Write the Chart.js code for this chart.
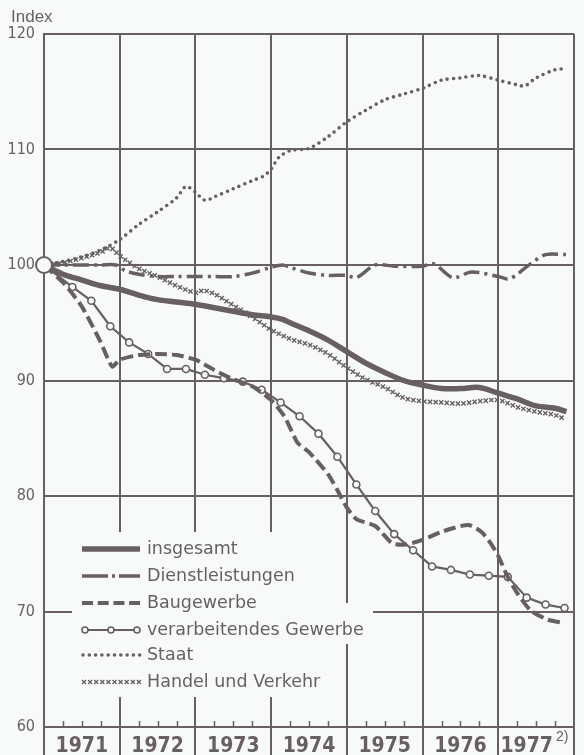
<!DOCTYPE html>
<html>
<head>
<meta charset="utf-8">
<script src="https://cdn.jsdelivr.net/npm/chart.js@4.4.1/dist/chart.umd.min.js"></script>
<style>
  html, body { margin: 0; padding: 0; background: #f8fafa; }
  #wrap { width: 584px; height: 755px; }
</style>
</head>
<body>
<div id="wrap"><canvas id="chart" width="584" height="755"></canvas></div>
<script>
// x values are quarters counted from the start of 1971 (0 = 1.1.1971, 28 = end of 1977)
const yearLabels = ["1971", "1972", "1973", "1974", "1975", "1976", "1977"];
const yearLabelPos = [2, 6, 10, 14, 18, 22, 25.5];
const yearLines = [0, 4, 8, 12, 16, 20, 24, 28];
const yTicks = [60, 70, 80, 90, 100, 110, 120];

const seriesNames = ["insgesamt", "Dienstleistungen", "Baugewerbe", "verarbeitendes Gewerbe", "Staat", "Handel und Verkehr"];

const insgesamtQ = [0, 1, 2, 3, 4, 5, 6, 7, 8, 9, 10, 11, 12, 12.6, 13, 14, 15, 16, 17, 18, 19, 20, 21, 22, 23, 24, 25, 26, 27, 27.6];
const insgesamtV = [100, 99.2, 98.7, 98.2, 97.9, 97.4, 97.0, 96.8, 96.6, 96.3, 96.0, 95.7, 95.5, 95.3, 95.0, 94.3, 93.5, 92.5, 91.5, 90.7, 90.0, 89.6, 89.3, 89.3, 89.4, 88.9, 88.4, 87.8, 87.6, 87.3];

const dienstQ = [0, 1, 2, 3, 3.8, 4.3, 5, 6, 7, 8, 9, 10, 11, 12, 12.6, 13, 14, 15, 16, 16.5, 17.5, 18.5, 20, 20.6, 21.6, 22.6, 24, 24.6, 25.7, 26.5, 27.6];
const dienstV = [100, 100, 100, 100, 100, 99.5, 99.2, 99.0, 99.0, 99.0, 99.0, 99.0, 99.3, 99.8, 100.0, 99.8, 99.3, 99.1, 99.1, 98.9, 100.0, 99.9, 99.9, 100.1, 98.9, 99.4, 99.0, 98.8, 100.1, 100.9, 100.9];

const bauQ = [0, 1, 2, 3, 3.6, 4, 5, 6, 7, 8, 9, 10, 11, 12, 12.7, 13.4, 14, 15, 15.5, 16, 16.5, 17.5, 18.4, 19.1, 20, 21, 22.4, 23.1, 23.6, 24, 24.5, 25, 25.7, 26.6, 27.5];
const bauV = [100, 98.5, 96.4, 93.3, 91.2, 91.8, 92.2, 92.3, 92.2, 91.8, 90.9, 90.1, 89.5, 88.3, 86.9, 84.6, 83.8, 81.9, 80.5, 79.0, 78.0, 77.4, 75.9, 75.8, 76.2, 76.9, 77.5, 76.9, 75.9, 74.8, 73.0, 71.6, 70.1, 69.3, 69.0];

const verarbQ = [0, 1.5, 2.5, 3.5, 4.5, 5.5, 6.5, 7.5, 8.5, 9.5, 10.5, 11.5, 12.5, 13.5, 14.5, 15.5, 16.5, 17.5, 18.5, 19.5, 20.5, 21.5, 22.5, 23.5, 24.5, 25.5, 26.5, 27.5];
const verarbV = [100, 98.1, 96.9, 94.7, 93.3, 92.3, 91.0, 91.0, 90.5, 90.2, 89.9, 89.2, 88.1, 86.9, 85.4, 83.4, 81.0, 78.7, 76.7, 75.3, 73.9, 73.6, 73.2, 73.1, 73.0, 71.2, 70.6, 70.3];

const staatQ = [0, 1, 2, 3, 4, 5, 6, 7, 7.5, 8, 8.5, 9, 10, 11, 11.6, 12, 12.4, 13, 14, 15, 16, 17, 18, 19, 20, 21, 22, 23, 24, 25, 25.4, 26, 27, 27.6];
const staatV = [100, 100.3, 100.7, 101.3, 102.2, 103.5, 104.6, 105.8, 106.8, 106.3, 105.6, 105.9, 106.6, 107.3, 107.7, 108.3, 109.3, 109.9, 110.1, 111.1, 112.4, 113.4, 114.3, 114.8, 115.3, 116.0, 116.2, 116.4, 116.0, 115.6, 115.5, 116.2, 116.9, 117.0];

const handelQ = [0, 1, 2, 3, 3.5, 4, 5, 6, 7, 8, 8.4, 9, 10, 11, 12, 13, 14, 15, 16, 17, 18, 19, 20, 21, 22, 23, 24, 25, 26, 27, 27.6];
const handelV = [100, 100.2, 100.6, 101.1, 101.5, 100.8, 99.7, 99.0, 98.2, 97.6, 97.8, 97.5, 96.5, 95.5, 94.4, 93.6, 93.1, 92.3, 91.1, 90.1, 89.4, 88.5, 88.2, 88.1, 88.0, 88.2, 88.3, 87.7, 87.3, 87.0, 86.6];

const INK = "#675f61";
const BG = "#f8fafa";
const NARROW = "'Liberation Sans Narrow', 'DejaVu Sans Condensed', 'Liberation Sans', sans-serif";
const LEGEND_FONT = "17.5px 'DejaVu Sans', sans-serif";

const toPoints = (qs, vs) => qs.map((q, i) => ({ x: q, y: vs[i] }));

// small x marks along a rendered line (Handel und Verkehr)
function drawCross(ctx, x, y, s) {
    ctx.beginPath();
    ctx.moveTo(x - s, y - s); ctx.lineTo(x + s, y + s);
    ctx.moveTo(x - s, y + s); ctx.lineTo(x + s, y - s);
    ctx.stroke();
}

function crossesAlong(ctx, pts, spacing, s, start) {
    let next = start, dist = 0;
    for (let i = 0; i < pts.length - 1; i++) {
        const a = pts[i], b = pts[i + 1];
        const c1x = a.cp2x ?? a.x, c1y = a.cp2y ?? a.y;
        const c2x = b.cp1x ?? b.x, c2y = b.cp1y ?? b.y;
        let px = a.x, py = a.y;
        for (let k = 1; k <= 30; k++) {
            const t = k / 30, u = 1 - t;
            const x = u*u*u*a.x + 3*u*u*t*c1x + 3*u*t*t*c2x + t*t*t*b.x;
            const y = u*u*u*a.y + 3*u*u*t*c1y + 3*u*t*t*c2y + t*t*t*b.y;
            const d = Math.hypot(x - px, y - py);
            while (dist + d >= next) {
                const f = d > 0 ? (next - dist) / d : 0;
                drawCross(ctx, px + (x - px) * f, py + (y - py) * f, s);
                next += spacing;
            }
            dist += d; px = x; py = y;
        }
    }
}

const decorations = {
    id: "decorations",
    beforeDraw(chart) {
        const ctx = chart.ctx;
        ctx.save();
        ctx.fillStyle = BG;
        ctx.fillRect(0, 0, chart.width, chart.height);
        ctx.restore();
    },
    beforeDatasetsDraw(chart) {
        const ctx = chart.ctx;
        const xs = chart.scales.x, area = chart.chartArea;
        ctx.save();
        // quarter ticks on the base line
        ctx.strokeStyle = INK;
        ctx.lineWidth = 1.5;
        for (let q = 1; q < 28; q++) {
            if (q % 4 === 0) continue;
            const px = Math.round(xs.getPixelForValue(q)) + 0.5;
            ctx.beginPath();
            ctx.moveTo(px, area.bottom);
            ctx.lineTo(px, area.bottom - 6);
            ctx.stroke();
        }
        // legend (white background hides the grid)
        ctx.fillStyle = BG;
        ctx.fillRect(72, 532, 228, 165);
        ctx.fillRect(72, 603, 301, 41);
        const rows = [549, 576, 603, 630, 655, 682];
        const x0 = 82, x1 = 140;
        ctx.strokeStyle = INK;
        ctx.lineCap = "butt";
        // insgesamt
        ctx.lineWidth = 5.5;
        ctx.beginPath(); ctx.moveTo(x0, rows[0]); ctx.lineTo(x1, rows[0]); ctx.stroke();
        // Dienstleistungen
        ctx.lineWidth = 3.5;
        ctx.beginPath();
        ctx.moveTo(x0, rows[1]); ctx.lineTo(x0 + 26, rows[1]);
        ctx.moveTo(x0 + 30, rows[1]); ctx.lineTo(x0 + 33, rows[1]);
        ctx.moveTo(x0 + 37, rows[1]); ctx.lineTo(x1, rows[1]);
        ctx.stroke();
        // Baugewerbe
        ctx.lineWidth = 4;
        ctx.setLineDash([11, 4.7]);
        ctx.beginPath(); ctx.moveTo(x0, rows[2]); ctx.lineTo(x1, rows[2]); ctx.stroke();
        ctx.setLineDash([]);
        // verarbeitendes Gewerbe
        ctx.lineWidth = 2.2;
        ctx.beginPath(); ctx.moveTo(x0, rows[3]); ctx.lineTo(x1, rows[3]); ctx.stroke();
        [x0 + 3, (x0 + x1) / 2, x1 - 3].forEach(cx => {
            ctx.beginPath();
            ctx.arc(cx, rows[3], 3, 0, Math.PI * 2);
            ctx.fillStyle = BG; ctx.fill();
            ctx.lineWidth = 1.6; ctx.stroke();
        });
        // Staat
        ctx.fillStyle = INK;
        for (let i = 0; i < 10; i++) {
            ctx.beginPath();
            ctx.arc(x0 + 1 + i * 6.3, rows[4], 1.8, 0, Math.PI * 2);
            ctx.fill();
        }
        // Handel und Verkehr
        ctx.lineWidth = 1.3;
        for (let i = 0; i < 10; i++) drawCross(ctx, x0 + 2 + i * 6.1, rows[5], 2);
        // texts
        ctx.fillStyle = INK;
        ctx.font = LEGEND_FONT;
        ctx.textBaseline = "middle";
        ctx.textAlign = "left";
        seriesNames.forEach((n, i) => ctx.fillText(n, 147, rows[i]));
        // axis title and footnote mark
        ctx.font = "17px 'Liberation Sans', sans-serif";
        ctx.fillText("Index", 11, 17);
        ctx.font = "bold 21px " + NARROW;
        const w = ctx.measureText("1977").width;
        ctx.font = "14px 'Liberation Sans', sans-serif";
        ctx.fillText("2)", xs.getPixelForValue(25.5) + w / 2 + 3, 737);
        ctx.restore();
    },
    afterDatasetsDraw(chart) {
        const ctx = chart.ctx;
        const meta = chart.getDatasetMeta(6);
        ctx.save();
        ctx.strokeStyle = INK;
        ctx.lineWidth = 1.4;
        crossesAlong(ctx, meta.data, 5.6, 2.1, 10);
        ctx.restore();
    }
};

const base = { pointRadius: 0, borderColor: INK, fill: false };

new Chart(document.getElementById("chart"), {
    type: "line",
    data: {
        datasets: [
            { label: "Basis", data: [{ x: 0, y: 100 }], showLine: false, pointRadius: 8,
              pointBorderWidth: 2, pointBorderColor: INK, pointBackgroundColor: BG, clip: false },
            { ...base, label: seriesNames[0], data: toPoints(insgesamtQ, insgesamtV), borderWidth: 5.5, tension: 0.35 },
            { ...base, label: seriesNames[1], data: toPoints(dienstQ, dienstV), borderWidth: 3.5,
              borderDash: [16, 5, 3, 5], tension: 0.3 },
            { ...base, label: seriesNames[2], data: toPoints(bauQ, bauV), borderWidth: 4,
              borderDash: [12, 5], tension: 0.2 },
            { ...base, label: seriesNames[3], data: toPoints(verarbQ, verarbV), borderWidth: 2.2, tension: 0,
              pointRadius: c => c.dataIndex === 0 ? 0 : 3.5, pointBorderWidth: 1.6,
              pointBorderColor: INK, pointBackgroundColor: BG },
            { ...base, label: seriesNames[4], data: toPoints(staatQ, staatV), borderWidth: 3.6,
              borderDash: [0, 6.3], borderCapStyle: "round", tension: 0.3 },
            { ...base, label: seriesNames[5], data: toPoints(handelQ, handelV), borderWidth: 0,
              borderColor: "rgba(0,0,0,0)", tension: 0.3 }
        ]
    },
    options: {
        responsive: false,
        animation: false,
        devicePixelRatio: 1,
        events: [],
        layout: { padding: { top: 34, right: 4, left: 0, bottom: 0 } },
        plugins: { legend: { display: false }, tooltip: { enabled: false } },
        scales: {
            x: {
                type: "linear",
                min: 0,
                max: 28,
                afterBuildTicks: s => {
                    s.ticks = [...new Set([...yearLines, ...yearLabelPos])].sort((a, b) => a - b).map(v => ({ value: v }));
                },
                afterFit: s => { s.height = 28; },
                grid: {
                    color: c => (c.tick && yearLines.includes(c.tick.value)) ? INK : "rgba(0,0,0,0)",
                    lineWidth: 2,
                    tickLength: 28
                },
                border: { color: INK, width: 2 },
                ticks: {
                    autoSkip: false,
                    maxRotation: 0,
                    padding: -21,
                    color: INK,
                    font: { family: NARROW, size: 21, weight: "bold" },
                    callback: v => {
                        const i = yearLabelPos.indexOf(v);
                        return i >= 0 ? yearLabels[i] : "";
                    }
                }
            },
            y: {
                min: 60,
                max: 120,
                afterBuildTicks: s => { s.ticks = yTicks.map(v => ({ value: v })); },
                afterFit: s => { s.width = 44; },
                grid: { color: INK, lineWidth: 2, drawTicks: false },
                border: { color: INK, width: 2 },
                ticks: {
                    padding: 9,
                    color: INK,
                    font: { family: NARROW, size: 16 }
                }
            }
        }
    },
    plugins: [decorations]
});
</script>
</body>
</html>
